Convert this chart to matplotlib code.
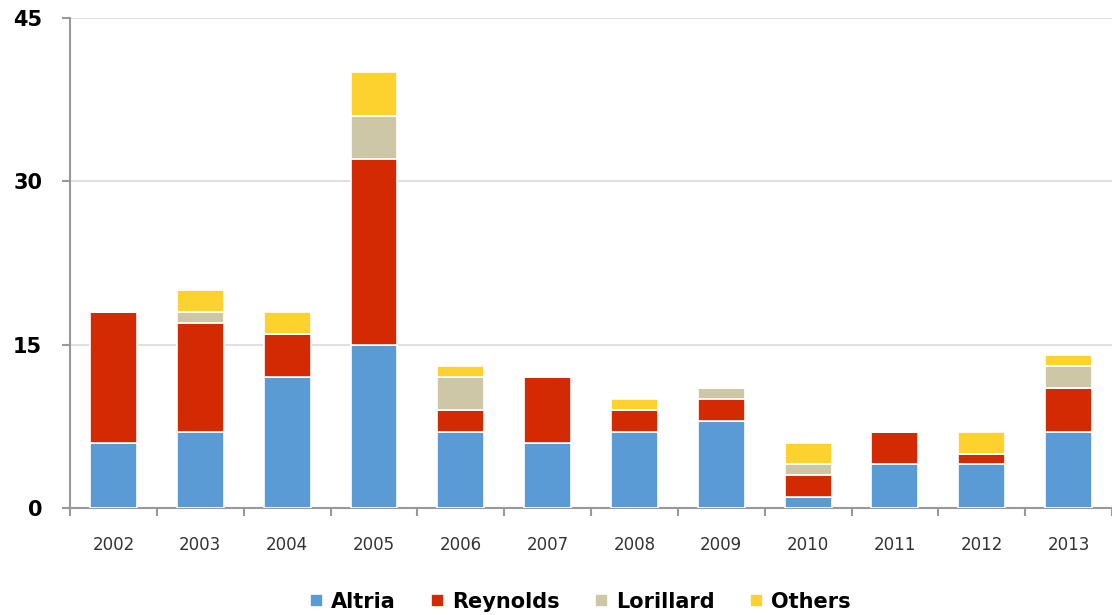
import matplotlib.pyplot as plt
import numpy as np

years = ["2002", "2003", "2004", "2005", "2006", "2007",
         "2008", "2009", "2010", "2011", "2012", "2013"]
altria = [6, 7, 12, 15, 7, 6, 7, 8, 1, 4, 4, 7]
reynolds = [12, 10, 4, 17, 2, 6, 2, 2, 2, 3, 1, 4]
lorillard = [0, 1, 0, 4, 3, 0, 0, 1, 1, 0, 0, 2]
others = [0, 2, 2, 4, 1, 0, 1, 0, 2, 0, 2, 1]

series = [("Altria", altria, "#5b9bd5"),
          ("Reynolds", reynolds, "#d42a04"),
          ("Lorillard", lorillard, "#cdc7a7"),
          ("Others", others, "#fdd22f")]

fig = plt.figure(figsize=(11.12, 6.15), dpi=100)
ax = fig.add_axes([0.063, 0.174, 0.937, 0.797])

x = np.arange(len(years))
bottom = np.zeros(len(years))
for name, vals, color in series:
    vals = np.array(vals, dtype=float)
    ax.bar(x, vals, 0.54, bottom=bottom, color=color, label=name,
           edgecolor="white", linewidth=1.2, zorder=3)
    bottom += vals

ax.set_xlim(-0.5, len(years) - 0.5)
ax.set_ylim(0, 45)
ax.set_yticks([0, 15, 30, 45])
ax.set_xticks(x)
ax.set_xticklabels(years, fontsize=12, color="#333333")
ax.tick_params(axis="x", length=0, pad=20)
ax.set_xticks(np.arange(len(years) + 1) - 0.5, minor=True)
ax.tick_params(axis="x", which="minor", length=6, color="#999999", width=1.5)
ax.tick_params(axis="y", length=6, color="#999999", width=1.5, pad=14)
for lab in ax.get_yticklabels():
    lab.set_fontsize(15)
    lab.set_fontweight("bold")

ax.grid(axis="y", color="#e0e0e0", linewidth=1.5, zorder=0)
for s in ["top", "right"]:
    ax.spines[s].set_visible(False)
ax.spines["left"].set_color("#999999")
ax.spines["bottom"].set_color("#999999")
ax.spines["left"].set_linewidth(1.5)
ax.spines["bottom"].set_linewidth(1.5)

fig.legend(loc="lower center", bbox_to_anchor=(0.522, -0.025), ncol=4,
           frameon=False, prop={"weight": "bold", "size": 15},
           handlelength=0.6, handleheight=0.6, handletextpad=0.4,
           columnspacing=1.7)

fig.savefig("out.png", dpi=100)
